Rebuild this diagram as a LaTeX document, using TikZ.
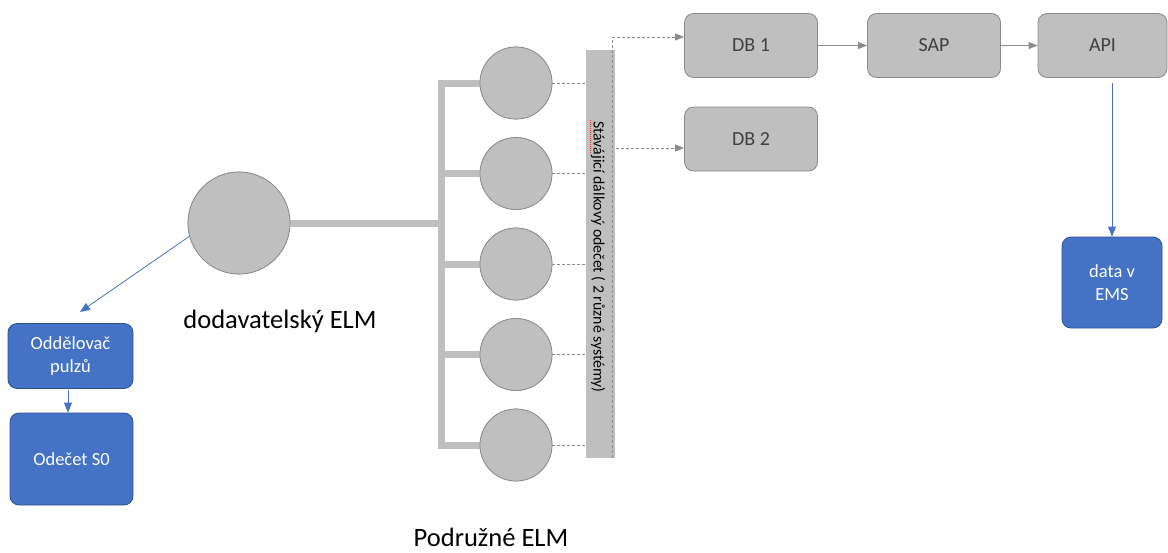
\documentclass[tikz,border=0pt]{standalone}
\usepackage{fontspec}
\setmainfont{Carlito}
\usetikzlibrary{arrows.meta}
\definecolor{fillgray}{HTML}{BFBFBF}
\definecolor{edgegray}{HTML}{8A8A8A}
\definecolor{textgray}{HTML}{404040}
\definecolor{dashgray}{HTML}{8C8C8C}
\definecolor{blfill}{HTML}{4472C4}
\definecolor{bledge}{HTML}{2F528F}
\tikzset{
  meter/.style={circle, draw=edgegray, fill=fillgray, line width=0.7pt, inner sep=0pt},
  graybox/.style={draw=edgegray, fill=fillgray, line width=0.8pt, rounded corners=9pt,
    minimum width=133pt, minimum height=64pt, text=textgray, font=\fontsize{20}{24}\selectfont},
  bluebox/.style={draw=bledge, fill=blfill, line width=0.8pt, rounded corners=9pt,
    text=white, align=center, font=\fontsize{18.5}{23}\selectfont},
  wire/.style={draw=fillgray, line width=7pt},
  dashln/.style={draw=dashgray, line width=0.8pt, dash pattern=on 3pt off 2pt},
  grayarrow/.style={draw=dashgray, line width=0.8pt, -{Triangle[length=9pt,width=7pt]}},
  bluearrow/.style={draw=blfill, line width=0.8pt, -{Triangle[length=10pt,width=8pt]}},
  biglabel/.style={text=black, font=\fontsize{26.5}{30}\selectfont}
}
\begin{document}
\begin{tikzpicture}[x=1pt,y=-1pt]
\useasboundingbox (0,0) rectangle (1168,552);

% big meter
\node[meter, minimum size=102pt] (big) at (239,223) {};
\node[biglabel] (biglbl) at (280,321) {dodavatelský ELM};

% sub meters
\node[meter, minimum size=72pt] (c1) at (516,83) {};
\node[meter, minimum size=72pt] (c2) at (516,173.5) {};
\node[meter, minimum size=72pt] (c3) at (516,264) {};
\node[meter, minimum size=72pt] (c4) at (516,354.5) {};
\node[meter, minimum size=72pt] (c5) at (516,445) {};
\node[biglabel] (sublbl) at (491,537) {Podružné ELM};

% wiring
\coordinate (tt) at (441,83);
\coordinate (tb) at (441,445);
\coordinate (tm) at (441,223);
\draw[wire] (c1.west) -- (tt) -- (tb) -- (c5.west);
\draw[wire] (big.east) -- (tm);
\draw[wire] (tt |- c2) -- (c2.west);
\draw[wire] (tt |- c3) -- (c3.west);
\draw[wire] (tt |- c4) -- (c4.west);
% redraw meters over wires
\node[meter, minimum size=102pt] at (big) {};
\foreach \c in {c1,c2,c3,c4,c5} { \node[meter, minimum size=72pt] at (\c) {}; }

% bar
\node[fill=fillgray, minimum width=29pt, minimum height=408pt, inner sep=0pt] (bar) at (600.5,254) {};
\node[rotate=-90, text=black, font=\fontsize{15.8}{18}\selectfont, inner sep=0pt] (bartxt) at (598,257)
  {Stávájicí dálkový odečet ( 2 různé systémy)};
\coordinate (sq1) at (590.5,120);
\coordinate (sq2) at (590.5,153);
\draw[red!85, line width=0.7pt, dash pattern=on 1pt off 1pt] (sq1) -- (sq2);

% dashed links from meters to bar
\foreach \c in {c1,c2,c3,c4,c5} { \draw[dashln] (\c.east) -- (\c.east -| bar.west); }

% boxes
\node[graybox] (db1) at (751,45.5) {DB 1};
\node[graybox] (db2) at (751,139) {DB 2};
\node[graybox] (sap) at (934,45.5) {SAP};
\node[graybox, minimum width=129pt] (api) at (1102.5,45.5) {API};

% dotted line inside bar and dashed arrows
\coordinate (vt) at (612,37);
\coordinate (vb) at (612,458);
\coordinate (d2s) at (616,148);
\draw[dashln] (vb) -- (vt);
\draw[dashln, grayarrow] (vt) -- (vt -| db1.west);
\draw[dashln, grayarrow] (d2s) -- (d2s -| db2.west);

\draw[grayarrow] (db1) -- (sap);
\draw[grayarrow] (sap) -- (api);

% blue boxes
\node[bluebox, minimum width=125pt, minimum height=65pt] (odd) at (70.5,356) {Oddělovač\\pulzů};
\node[bluebox, minimum width=123pt, minimum height=92pt] (ode) at (71.5,459) {Odečet S0};
\node[bluebox, minimum width=100pt, minimum height=91pt] (ems) at (1112,282.5) {data v\\EMS};

\coordinate (oddtip) at (80,312);
\coordinate (ox) at (68,0);
\draw[bluearrow] (big.195) -- (oddtip);
\draw[bluearrow, shorten <=1pt] (odd.south -| ox) -- (ode.north -| ox);
\draw[bluearrow, shorten <=5pt] (api.south -| ems.north) -- (ems.north);
\end{tikzpicture}
\end{document}
